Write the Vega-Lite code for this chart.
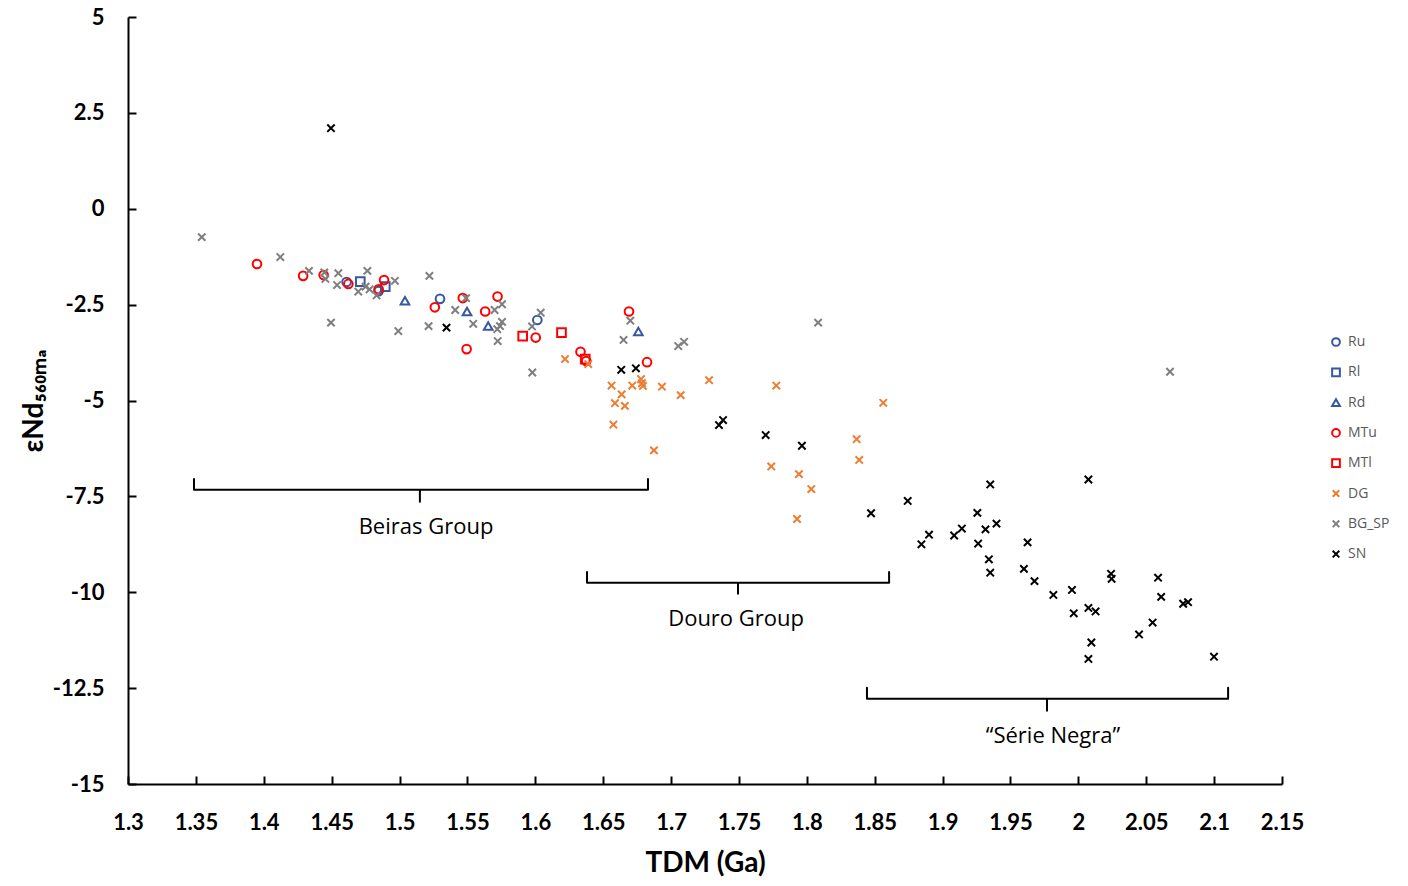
{
  "$schema": "https://vega.github.io/schema/vega-lite/v6.json",
  "autosize": {"type": "none"},
  "padding": {"left": 128, "top": 17, "right": 126, "bottom": 102},
  "width": 1154,
  "height": 767,
  "background": "white",
  "datasets": {
    "points": [
      {"tdm": 1.461, "end": -1.91, "group": "Ru"},
      {"tdm": 1.4846, "end": -2.15, "group": "Ru"},
      {"tdm": 1.5298, "end": -2.35, "group": "Ru"},
      {"tdm": 1.6015, "end": -2.90, "group": "Ru"},
      {"tdm": 1.4711, "end": -1.90, "group": "Rl"},
      {"tdm": 1.4895, "end": -2.03, "group": "Rl"},
      {"tdm": 1.504, "end": -2.40, "group": "Rd"},
      {"tdm": 1.5497, "end": -2.68, "group": "Rd"},
      {"tdm": 1.5653, "end": -3.06, "group": "Rd"},
      {"tdm": 1.6759, "end": -3.20, "group": "Rd"},
      {"tdm": 1.395, "end": -1.44, "group": "MTu"},
      {"tdm": 1.429, "end": -1.75, "group": "MTu"},
      {"tdm": 1.4441, "end": -1.73, "group": "MTu"},
      {"tdm": 1.4623, "end": -1.96, "group": "MTu"},
      {"tdm": 1.4846, "end": -2.10, "group": "MTu"},
      {"tdm": 1.4886, "end": -1.86, "group": "MTu"},
      {"tdm": 1.526, "end": -2.57, "group": "MTu"},
      {"tdm": 1.5466, "end": -2.33, "group": "MTu"},
      {"tdm": 1.5494, "end": -3.66, "group": "MTu"},
      {"tdm": 1.5631, "end": -2.68, "group": "MTu"},
      {"tdm": 1.5722, "end": -2.29, "group": "MTu"},
      {"tdm": 1.6003, "end": -3.36, "group": "MTu"},
      {"tdm": 1.6333, "end": -3.73, "group": "MTu"},
      {"tdm": 1.6375, "end": -3.97, "group": "MTu"},
      {"tdm": 1.669, "end": -2.68, "group": "MTu"},
      {"tdm": 1.6823, "end": -4.00, "group": "MTu"},
      {"tdm": 1.5907, "end": -3.32, "group": "MTl"},
      {"tdm": 1.6193, "end": -3.23, "group": "MTl"},
      {"tdm": 1.6368, "end": -3.92, "group": "MTl"},
      {"tdm": 1.6219, "end": -3.92, "group": "DG"},
      {"tdm": 1.639, "end": -4.05, "group": "DG"},
      {"tdm": 1.6562, "end": -4.61, "group": "DG"},
      {"tdm": 1.6636, "end": -4.84, "group": "DG"},
      {"tdm": 1.6587, "end": -5.07, "group": "DG"},
      {"tdm": 1.666, "end": -5.14, "group": "DG"},
      {"tdm": 1.6575, "end": -5.63, "group": "DG"},
      {"tdm": 1.6714, "end": -4.61, "group": "DG"},
      {"tdm": 1.6779, "end": -4.44, "group": "DG"},
      {"tdm": 1.6786, "end": -4.55, "group": "DG"},
      {"tdm": 1.6793, "end": -4.62, "group": "DG"},
      {"tdm": 1.6933, "end": -4.64, "group": "DG"},
      {"tdm": 1.7071, "end": -4.86, "group": "DG"},
      {"tdm": 1.728, "end": -4.47, "group": "DG"},
      {"tdm": 1.6874, "end": -6.30, "group": "DG"},
      {"tdm": 1.7775, "end": -4.61, "group": "DG"},
      {"tdm": 1.8563, "end": -5.06, "group": "DG"},
      {"tdm": 1.8367, "end": -6.01, "group": "DG"},
      {"tdm": 1.8386, "end": -6.55, "group": "DG"},
      {"tdm": 1.7738, "end": -6.72, "group": "DG"},
      {"tdm": 1.7942, "end": -6.92, "group": "DG"},
      {"tdm": 1.8033, "end": -7.31, "group": "DG"},
      {"tdm": 1.7928, "end": -8.09, "group": "DG"},
      {"tdm": 1.3543, "end": -0.74, "group": "BG_SP"},
      {"tdm": 1.4122, "end": -1.26, "group": "BG_SP"},
      {"tdm": 1.4333, "end": -1.62, "group": "BG_SP"},
      {"tdm": 1.4446, "end": -1.66, "group": "BG_SP"},
      {"tdm": 1.4454, "end": -1.83, "group": "BG_SP"},
      {"tdm": 1.4549, "end": -1.68, "group": "BG_SP"},
      {"tdm": 1.454, "end": -1.99, "group": "BG_SP"},
      {"tdm": 1.4696, "end": -2.16, "group": "BG_SP"},
      {"tdm": 1.4763, "end": -1.62, "group": "BG_SP"},
      {"tdm": 1.475, "end": -2.03, "group": "BG_SP"},
      {"tdm": 1.478, "end": -2.10, "group": "BG_SP"},
      {"tdm": 1.4831, "end": -2.26, "group": "BG_SP"},
      {"tdm": 1.4966, "end": -1.88, "group": "BG_SP"},
      {"tdm": 1.522, "end": -1.75, "group": "BG_SP"},
      {"tdm": 1.4495, "end": -2.97, "group": "BG_SP"},
      {"tdm": 1.4991, "end": -3.19, "group": "BG_SP"},
      {"tdm": 1.5214, "end": -3.06, "group": "BG_SP"},
      {"tdm": 1.549, "end": -2.33, "group": "BG_SP"},
      {"tdm": 1.541, "end": -2.64, "group": "BG_SP"},
      {"tdm": 1.5543, "end": -3.00, "group": "BG_SP"},
      {"tdm": 1.5755, "end": -2.49, "group": "BG_SP"},
      {"tdm": 1.570, "end": -2.64, "group": "BG_SP"},
      {"tdm": 1.5755, "end": -2.95, "group": "BG_SP"},
      {"tdm": 1.574, "end": -3.06, "group": "BG_SP"},
      {"tdm": 1.572, "end": -3.14, "group": "BG_SP"},
      {"tdm": 1.5723, "end": -3.45, "group": "BG_SP"},
      {"tdm": 1.5978, "end": -4.27, "group": "BG_SP"},
      {"tdm": 1.604, "end": -2.71, "group": "BG_SP"},
      {"tdm": 1.5976, "end": -3.07, "group": "BG_SP"},
      {"tdm": 1.670, "end": -2.92, "group": "BG_SP"},
      {"tdm": 1.665, "end": -3.42, "group": "BG_SP"},
      {"tdm": 1.7053, "end": -3.58, "group": "BG_SP"},
      {"tdm": 1.7096, "end": -3.47, "group": "BG_SP"},
      {"tdm": 1.8083, "end": -2.97, "group": "BG_SP"},
      {"tdm": 2.0675, "end": -4.25, "group": "BG_SP"},
      {"tdm": 1.4495, "end": 2.10, "group": "SN"},
      {"tdm": 1.5346, "end": -3.10, "group": "SN"},
      {"tdm": 1.6633, "end": -4.20, "group": "SN"},
      {"tdm": 1.6741, "end": -4.16, "group": "SN"},
      {"tdm": 1.7353, "end": -5.64, "group": "SN"},
      {"tdm": 1.7383, "end": -5.51, "group": "SN"},
      {"tdm": 1.7697, "end": -5.90, "group": "SN"},
      {"tdm": 1.7964, "end": -6.18, "group": "SN"},
      {"tdm": 1.8473, "end": -7.94, "group": "SN"},
      {"tdm": 1.8743, "end": -7.62, "group": "SN"},
      {"tdm": 1.9351, "end": -7.19, "group": "SN"},
      {"tdm": 1.9256, "end": -7.93, "group": "SN"},
      {"tdm": 1.89, "end": -8.50, "group": "SN"},
      {"tdm": 1.8844, "end": -8.75, "group": "SN"},
      {"tdm": 1.9085, "end": -8.52, "group": "SN"},
      {"tdm": 1.9142, "end": -8.34, "group": "SN"},
      {"tdm": 1.9316, "end": -8.36, "group": "SN"},
      {"tdm": 1.9397, "end": -8.21, "group": "SN"},
      {"tdm": 1.9262, "end": -8.73, "group": "SN"},
      {"tdm": 1.9341, "end": -9.14, "group": "SN"},
      {"tdm": 1.9351, "end": -9.49, "group": "SN"},
      {"tdm": 1.9626, "end": -8.70, "group": "SN"},
      {"tdm": 1.9599, "end": -9.39, "group": "SN"},
      {"tdm": 1.9677, "end": -9.71, "group": "SN"},
      {"tdm": 1.9816, "end": -10.07, "group": "SN"},
      {"tdm": 2.0074, "end": -7.06, "group": "SN"},
      {"tdm": 1.9953, "end": -9.94, "group": "SN"},
      {"tdm": 1.9966, "end": -10.55, "group": "SN"},
      {"tdm": 2.0074, "end": -10.41, "group": "SN"},
      {"tdm": 2.0127, "end": -10.50, "group": "SN"},
      {"tdm": 2.0241, "end": -9.52, "group": "SN"},
      {"tdm": 2.0245, "end": -9.65, "group": "SN"},
      {"tdm": 2.0096, "end": -11.31, "group": "SN"},
      {"tdm": 2.0074, "end": -11.74, "group": "SN"},
      {"tdm": 2.0447, "end": -11.10, "group": "SN"},
      {"tdm": 2.0547, "end": -10.79, "group": "SN"},
      {"tdm": 2.0587, "end": -9.62, "group": "SN"},
      {"tdm": 2.061, "end": -10.12, "group": "SN"},
      {"tdm": 2.0772, "end": -10.30, "group": "SN"},
      {"tdm": 2.0808, "end": -10.26, "group": "SN"},
      {"tdm": 2.0999, "end": -11.68, "group": "SN"}
    ],
    "brackets": [
      {"bracket": "Beiras", "seq": 1, "tdm": 1.3486, "end": -7.05},
      {"bracket": "Beiras", "seq": 2, "tdm": 1.3486, "end": -7.33},
      {"bracket": "Beiras", "seq": 3, "tdm": 1.515, "end": -7.33},
      {"bracket": "Beiras", "seq": 4, "tdm": 1.515, "end": -7.64},
      {"bracket": "Beiras", "seq": 5, "tdm": 1.515, "end": -7.33},
      {"bracket": "Beiras", "seq": 6, "tdm": 1.683, "end": -7.33},
      {"bracket": "Beiras", "seq": 7, "tdm": 1.683, "end": -7.05},
      {"bracket": "Douro", "seq": 1, "tdm": 1.6381, "end": -9.47},
      {"bracket": "Douro", "seq": 2, "tdm": 1.6381, "end": -9.75},
      {"bracket": "Douro", "seq": 3, "tdm": 1.7493, "end": -9.75},
      {"bracket": "Douro", "seq": 4, "tdm": 1.7493, "end": -10.04},
      {"bracket": "Douro", "seq": 5, "tdm": 1.7493, "end": -9.75},
      {"bracket": "Douro", "seq": 6, "tdm": 1.8606, "end": -9.75},
      {"bracket": "Douro", "seq": 7, "tdm": 1.8606, "end": -9.47},
      {"bracket": "SN", "seq": 1, "tdm": 1.8443, "end": -12.49},
      {"bracket": "SN", "seq": 2, "tdm": 1.8443, "end": -12.78},
      {"bracket": "SN", "seq": 3, "tdm": 1.9769, "end": -12.78},
      {"bracket": "SN", "seq": 4, "tdm": 1.9769, "end": -13.09},
      {"bracket": "SN", "seq": 5, "tdm": 1.9769, "end": -12.78},
      {"bracket": "SN", "seq": 6, "tdm": 2.1103, "end": -12.78},
      {"bracket": "SN", "seq": 7, "tdm": 2.1103, "end": -12.49}
    ],
    "labels": [
      {"tdm": 1.5195, "end": -8.30, "label": "Beiras Group"},
      {"tdm": 1.7479, "end": -10.69, "label": "Douro Group"},
      {"tdm": 1.9813, "end": -13.74, "label": "“Série Negra”"}
    ]
  },
  "encoding": {
    "x": {
      "field": "tdm", "type": "quantitative", "title": "TDM (Ga)",
      "scale": {"domain": [1.3, 2.15], "nice": false, "zero": false},
      "axis": {"values": [1.3, 1.35, 1.4, 1.45, 1.5, 1.55, 1.6, 1.65, 1.7, 1.75, 1.8, 1.85, 1.9, 1.95, 2, 2.05, 2.1, 2.15], "labelExpr": "replace(format(datum.value, '.3~f'), '−', '-')", "labelPadding": 36, "titlePadding": 16}
    },
    "y": {
      "field": "end", "type": "quantitative", "title": "εNd₅₆₀ₘₐ",
      "scale": {"domain": [-15, 5], "nice": false, "zero": false},
      "axis": {"values": [-15, -12.5, -10, -7.5, -5, -2.5, 0, 2.5, 5], "labelExpr": "replace(format(datum.value, '.3~f'), '−', '-')", "labelPadding": 32, "titlePadding": 4}
    }
  },
  "layer": [
    {
      "data": {"name": "brackets"},
      "mark": {"type": "line", "color": "black", "strokeWidth": 2, "strokeJoin": "round", "strokeCap": "round"},
      "encoding": {
        "detail": {"field": "bracket"},
        "order": {"field": "seq", "type": "quantitative"}
      }
    },
    {
      "data": {"name": "labels"},
      "mark": {"type": "text", "font": "Open Sans", "fontSize": 22, "color": "black", "align": "center", "baseline": "middle"},
      "encoding": {"text": {"field": "label"}}
    },
    {
      "data": {"name": "points"},
      "mark": {"type": "point", "filled": false, "size": 75, "strokeWidth": 2, "opacity": 1},
      "encoding": {
        "color": {
          "field": "group", "type": "nominal",
          "scale": {
            "domain": ["Ru", "Rl", "Rd", "MTu", "MTl", "DG", "BG_SP", "SN"],
            "range": ["#3558A0", "#3558A0", "#3558A0", "#FF0000", "#FF0000", "#ED7D31", "#7F7F7F", "#000000"]
          },
          "legend": {
            "title": null, "orient": "none", "legendX": 1201, "legendY": 318,
            "labelFont": "Open Sans", "labelFontSize": 14, "labelColor": "#595959",
            "symbolSize": 60, "symbolStrokeWidth": 2, "rowPadding": 14.3, "labelOffset": 5
          }
        },
        "shape": {
          "field": "group", "type": "nominal",
          "scale": {
            "domain": ["Ru", "Rl", "Rd", "MTu", "MTl", "DG", "BG_SP", "SN"],
            "range": ["circle", "square", "triangle-up", "circle", "square",
              "M-0.85,-0.85L0.85,0.85M-0.85,0.85L0.85,-0.85",
              "M-0.85,-0.85L0.85,0.85M-0.85,0.85L0.85,-0.85",
              "M-0.85,-0.85L0.85,0.85M-0.85,0.85L0.85,-0.85"]
          },
          "legend": null
        }
      }
    }
  ],
  "config": {
    "view": {"stroke": null},
    "axis": {
      "grid": false,
      "domainColor": "black",
      "domainWidth": 2,
      "tickColor": "black",
      "tickWidth": 2,
      "tickSize": -8,
      "labelFont": "Lato",
      "labelFontWeight": "bold",
      "labelFontSize": 22,
      "labelColor": "black",
      "titleFont": "Lato",
      "titleFontWeight": "bold",
      "titleFontSize": 28,
      "titleColor": "black",
      "labelFlush": false,
      "labelOverlap": false
    }
  }
}
